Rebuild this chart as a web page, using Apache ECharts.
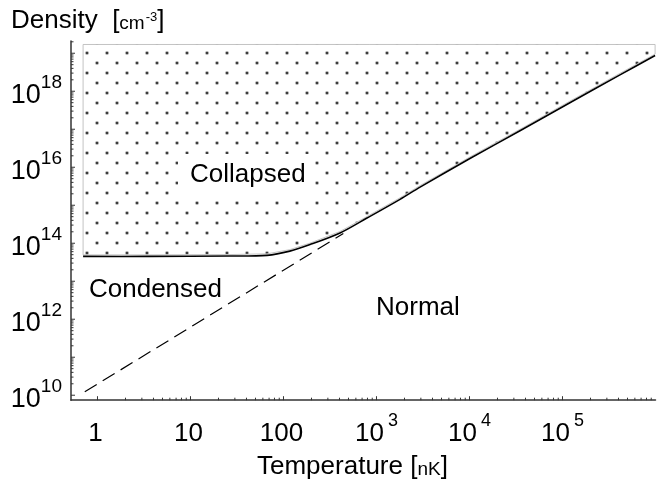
<!DOCTYPE html>
<html>
<head>
<meta charset="utf-8">
<script src="https://cdn.jsdelivr.net/npm/echarts@6/dist/echarts.min.js"></script>
<style>
html, body { margin: 0; padding: 0; background: #fff; }
#main { width: 660px; height: 482px; }
</style>
</head>
<body>
<div id="main"></div>
<script>
// collapse boundary (solid curve): temperature in nK, density in cm^-3
var solidT = [0.70, 3.67, 26.6, 66.5, 117, 193, 405, 790, 1790, 2940, 10100, 34900, 120000, 415000, 990000];
var solidN = [4.5e13, 4.5e13, 4.6e13, 4.8e13, 6.2e13, 9.2e13, 1.86e14, 4.6e14, 1.43e15, 3.0e15, 1.7e16, 9.1e16, 5.0e17, 2.7e18, 8.7e18];
// condensation line (dashed)
var dashT = [0.73, 440];
var dashN = [1.23e10, 1.8e14];
// top of the collapsed (dotted) region
var fillTop = 1.7e19;

// axis ranges
var X_MIN = 0.519, X_MAX = 1e6;
var Y_MIN = 7.4e9, Y_MAX = 2.1e19;

// tick labels
var xLabelExp = [0, 1, 2, 3, 4, 5];
var xLabelBase = ['1', '10', '100', '10', '10', '10'];
var xLabelSup = ['', '', '', '3', '4', '5'];
var yLabelExp = [10, 12, 14, 16, 18];
var yLabelBase = ['10', '10', '10', '10', '10'];
var yLabelSup = ['10', '12', '14', '16', '18'];

// tick marks: decades times mantissas
var tickMantissa = [1, 2, 3, 4, 5, 6, 7, 8, 9];
var xTickDecades = [1, 10, 100, 1e3, 1e4, 1e5];
var yTickDecades = [1e10, 1e11, 1e12, 1e13, 1e14, 1e15, 1e16, 1e17, 1e18, 1e19];

var FONT = "'Liberation Sans', Arial, sans-serif";

var myChart = echarts.init(document.getElementById('main'), null, { renderer: 'canvas' });

function makeDots() {
    var c = document.createElement('canvas');
    c.width = 20;
    c.height = 20;
    var ctx = c.getContext('2d');
    [[7, 13], [17, 3]].forEach(function (p) {
        ctx.fillStyle = 'rgba(90,90,90,0.35)';
        ctx.beginPath();
        ctx.arc(p[0], p[1], 2.1, 0, Math.PI * 2);
        ctx.fill();
        ctx.fillStyle = '#3c3c3c';
        ctx.beginPath();
        ctx.arc(p[0], p[1], 1.3, 0, Math.PI * 2);
        ctx.fill();
    });
    return c;
}
var dots = makeDots();

function expOf(v) {
    var l = Math.log10(v);
    var e = Math.round(l);
    return Math.abs(l - e) < 1e-6 ? e : null;
}

function labelFormatter(exps, bases, sups, baseStyle, supStyle) {
    return function (value) {
        var e = expOf(value);
        var i = exps.indexOf(e);
        if (e === null || i < 0) return '';
        return '{' + baseStyle + '|' + bases[i] + '}{' + supStyle + '|' + (sups[i] || '\u200b') + '}';
    };
}

var labelRich = {
    b: { fontSize: 26, fontFamily: FONT, color: '#000', verticalAlign: 'bottom' },
    by: { fontSize: 27, fontFamily: FONT, color: '#000', verticalAlign: 'bottom' },
    s: { fontSize: 19, fontFamily: FONT, color: '#000', verticalAlign: 'bottom', padding: [0, 0, 17, 0] },
    sx: { fontSize: 18, fontFamily: FONT, color: '#000', verticalAlign: 'bottom', padding: [0, 0, 17, 4] }
};

function tickValues(decades, lo, hi) {
    var out = [];
    decades.forEach(function (d) {
        tickMantissa.forEach(function (m) {
            var v = m * d;
            if (v >= lo && v <= hi) out.push(v);
        });
    });
    return out;
}

function tickSeries(values, axis) {
    return {
        type: 'custom',
        silent: true,
        z: 6,
        data: values.map(function (v) { return axis === 'x' ? [v, Y_MIN] : [X_MIN, v]; }),
        renderItem: function (params, api) {
            var cs = params.coordSys;
            var v = api.value(axis === 'x' ? 0 : 1);
            var len = expOf(v) !== null ? 4 : 2.5;
            var p = api.coord([api.value(0), api.value(1)]);
            var shape;
            if (axis === 'x') {
                var y0 = cs.y + cs.height;
                shape = { x1: p[0], y1: y0, x2: p[0], y2: y0 - len };
            } else {
                shape = { x1: cs.x, y1: p[1], x2: cs.x + len, y2: p[1] };
            }
            return { type: 'line', shape: shape, style: { stroke: '#333', lineWidth: 1 } };
        }
    };
}

var option = {
    animation: false,
    backgroundColor: '#fff',
    grid: { left: 71, right: 4.5, top: 41, bottom: 81.8, containLabel: false, outerBoundsMode: 'none' },
    xAxis: {
        type: 'log',
        logBase: 10,
        min: X_MIN,
        max: X_MAX,
        axisLine: { show: true, onZero: false, lineStyle: { color: '#333', width: 1.5 } },
        axisTick: { show: false },
        minorTick: { show: false },
        splitLine: { show: false },
        axisLabel: {
            margin: 12,
            formatter: labelFormatter(xLabelExp, xLabelBase, xLabelSup, 'b', 'sx'),
            rich: labelRich
        }
    },
    yAxis: {
        type: 'log',
        logBase: 10,
        min: Y_MIN,
        max: Y_MAX,
        axisLine: { show: true, onZero: false, lineStyle: { color: '#333', width: 1.5 } },
        axisTick: { show: false },
        minorTick: { show: false },
        splitLine: { show: false },
        axisLabel: {
            margin: 9,
            formatter: labelFormatter(yLabelExp, yLabelBase, yLabelSup, 'by', 's'),
            rich: labelRich
        }
    },
    graphic: [
        {
            type: 'text', x: 11, y: 8, z: 10,
            style: {
                text: '{a|Density  [}{u|cm}{p|-3}{a|]}',
                verticalAlign: 'top',
                rich: {
                    a: { fontSize: 26, fontFamily: FONT, fill: '#000', verticalAlign: 'bottom' },
                    u: { fontSize: 19, fontFamily: FONT, fill: '#000', verticalAlign: 'bottom', padding: [0, 0, 1, 0] },
                    p: { fontSize: 13, fontFamily: FONT, fill: '#000', verticalAlign: 'bottom', padding: [0, 0, 10, 1] }
                }
            }
        },
        {
            type: 'text', x: 257, y: 454, z: 10,
            style: {
                text: '{a|Temperature [}{u|nK}{a|]}',
                verticalAlign: 'top',
                rich: {
                    a: { fontSize: 26, fontFamily: FONT, fill: '#000', verticalAlign: 'bottom' },
                    u: { fontSize: 19, fontFamily: FONT, fill: '#000', verticalAlign: 'bottom', padding: [0, 0, 1, 0] }
                }
            }
        },
        {
            type: 'text', x: 178, y: 175, z: 10,
            style: {
                text: 'Collapsed', font: '26px ' + FONT, fill: '#000', verticalAlign: 'middle',
                backgroundColor: '#fff', padding: [12, 9, 4, 12]
            }
        },
        { type: 'text', x: 89, y: 290, z: 10, style: { text: 'Condensed', font: '26px ' + FONT, fill: '#000', verticalAlign: 'middle' } },
        { type: 'text', x: 376, y: 308, z: 10, style: { text: 'Normal', font: '26px ' + FONT, fill: '#000', verticalAlign: 'middle' } }
    ],
    series: [
        {
            // dotted collapsed region and its boundary curve
            type: 'custom',
            silent: true,
            z: 2,
            data: [[solidT[0], fillTop]],
            renderItem: function (params, api) {
                var curve = solidT.map(function (t, i) { return api.coord([t, solidN[i]]); });
                var edge = curve.map(function (p) { return [p[0], p[1] - 1.5]; });
                edge.push(api.coord([solidT[solidT.length - 1], fillTop]));
                edge.push(api.coord([solidT[0], fillTop]));
                return {
                    type: 'group',
                    children: [
                        {
                            type: 'polygon',
                            shape: { points: edge },
                            style: { fill: { image: dots, repeat: 'repeat' }, stroke: '#b4b4b4', lineWidth: 0.8 }
                        },
                        {
                            type: 'polyline',
                            shape: { points: curve, smooth: 0.3 },
                            style: { fill: 'none', stroke: '#000', lineWidth: 1.6 }
                        }
                    ]
                };
            }
        },
        {
            type: 'line',
            z: 3,
            symbol: 'none',
            silent: true,
            data: dashT.map(function (t, i) { return [t, dashN[i]]; }),
            lineStyle: { color: '#000', width: 1.2, type: [14, 7] }
        },
        tickSeries(tickValues(xTickDecades, X_MIN, X_MAX), 'x'),
        tickSeries(tickValues(yTickDecades, Y_MIN, Y_MAX), 'y')
    ]
};

myChart.setOption(option);
</script>
</body>
</html>
